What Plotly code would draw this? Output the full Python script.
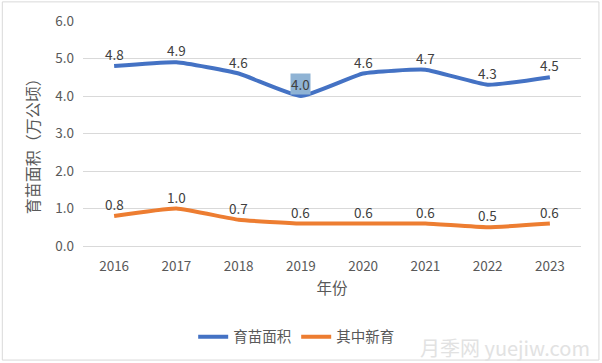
import plotly.graph_objects as go

years = ["2016", "2017", "2018", "2019", "2020", "2021", "2022", "2023"]
area = [4.8, 4.9, 4.6, 4.0, 4.6, 4.7, 4.3, 4.5]
new_area = [0.8, 1.0, 0.7, 0.6, 0.6, 0.6, 0.5, 0.6]
y_ticks = [0, 1, 2, 3, 4, 5, 6]
y_labels = ["0.0", "1.0", "2.0", "3.0", "4.0", "5.0", "6.0"]

FONT = "Noto Sans CJK SC, Noto Sans, sans-serif"
GREY = "#595959"

fig = go.Figure()
fig.add_trace(go.Scatter(x=years, y=area, name="育苗面积", mode="lines",
                         line=dict(color="#4472C4", width=4, shape="spline", smoothing=0.4)))
fig.add_trace(go.Scatter(x=years, y=new_area, name="其中新育", mode="lines",
                         line=dict(color="#ED7D31", width=4, shape="spline", smoothing=0.4)))

for i, v in enumerate(area):
    fig.add_annotation(x=i, y=v, text=f"{v:.1f}", showarrow=False, yshift=12,
                       font=dict(size=13.5, color="#404040", family=FONT),
                       bgcolor="#8fb3d4" if years[i] == "2019" else None, borderpad=0)
for i, v in enumerate(new_area):
    fig.add_annotation(x=i, y=v, text=f"{v:.1f}", showarrow=False, yshift=12,
                       font=dict(size=13.5, color="#404040", family=FONT))

# y-axis title
fig.add_annotation(xref="paper", yref="paper", x=-0.102, y=0.462, text="育苗面积（万公顷）",
                   textangle=-90, showarrow=False, xanchor="center", yanchor="middle",
                   font=dict(size=16, color=GREY, family=FONT))

# watermark
fig.add_annotation(xref="paper", yref="paper", x=1.022, y=-0.45, text="月季网 yuejiw.com",
                   showarrow=False, xanchor="right", yanchor="middle",
                   font=dict(size=20, color="#e2e2e2", family=FONT))

fig.add_shape(type="rect", xref="paper", yref="paper", x0=-0.162, x1=1.036, y0=-0.507, y1=1.085,
              line=dict(color="#d9d9d9", width=1), fillcolor="rgba(0,0,0,0)", layer="below")

fig.update_layout(
    width=602, height=363,
    margin=dict(l=83, r=21, t=21, b=117, autoexpand=False),
    paper_bgcolor="white", plot_bgcolor="white",
    font=dict(family=FONT, color=GREY, size=13),
    showlegend=True,
    legend=dict(orientation="h", xref="container", yref="container", x=0.492, xanchor="center",
                y=0.072, yanchor="middle", itemwidth=30,
                font=dict(size=14.5, color=GREY, family=FONT)),
    xaxis=dict(type="category", range=[-0.5, 7.5], showgrid=False, showline=True, linecolor="#d9d9d9",
               ticks="", tickfont=dict(size=13.5, color=GREY), ticklabelstandoff=8, automargin=False,
               title=dict(text="年份", font=dict(size=15.5, color=GREY), standoff=8)),
    yaxis=dict(range=[0, 6], tickvals=y_ticks, ticktext=y_labels, showgrid=True,
               gridcolor="#d9d9d9", zeroline=False, showline=False, ticks="", automargin=False,
               tickfont=dict(size=13.5, color=GREY), ticklabelstandoff=8),
)

fig.write_html("out.html", config={"displayModeBar": False},
               post_script="document.body.style.margin='0';")
